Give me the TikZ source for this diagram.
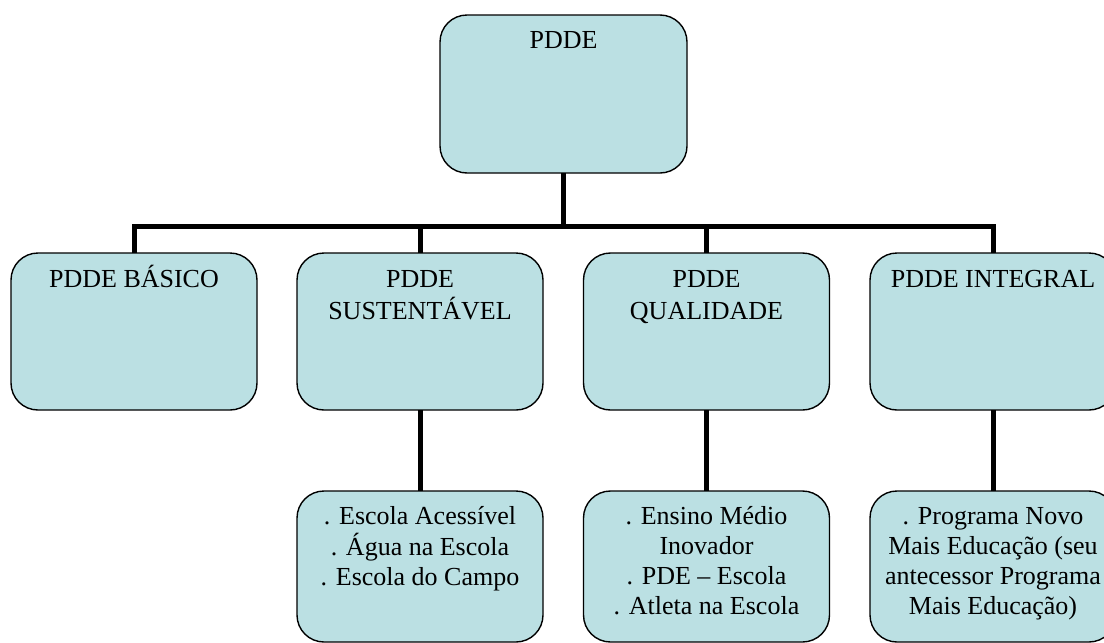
\documentclass[tikz,border=0pt]{standalone}
\usepackage{fontspec}
\setmainfont{Liberation Serif}
\usetikzlibrary{calc}
\definecolor{boxfill}{RGB}{187,224,227}
\newcommand{\boxtext}[1]{\begin{tabular}[t]{@{}c@{}}#1\end{tabular}}
\tikzset{
  box/.style={draw=black, line width=1.4pt, fill=boxfill, rounded corners=27pt,
    minimum width=246pt, minimum height=157pt, inner sep=0pt, outer sep=0pt},
  topbox/.style={box, minimum width=247pt, minimum height=158pt},
  subbox/.style={box, minimum height=151pt},
  lbl/.style={anchor=base, inner sep=0pt, font=\fontsize{26}{32.5}\selectfont},
  sublbl/.style={anchor=base, inner sep=0pt, font=\fontsize{26}{30}\selectfont},
  conn/.style={line width=5pt},
}
\begin{document}
\begin{tikzpicture}[x=1pt, y=-1pt]
  \useasboundingbox (0,0) rectangle (1104,643);
  \clip (0,0) rectangle (1104,643);

  % root
  \node[topbox] (pdde) at (563.5,94) {};
  % second level
  \node[box] (basic)    at (134,331.5) {};
  \node[box] (sust)     at (420,331.5) {};
  \node[box] (qual)     at (706.5,331.5) {};
  \node[box] (integral) at (993,331.5) {};
  % third level
  \node[subbox] (sust-sub)     at (420,566.5) {};
  \node[subbox] (qual-sub)     at (706.5,566.5) {};
  \node[subbox] (integral-sub) at (993,566.5) {};

  % connectors
  \coordinate (bus) at (563.5,226);
  \foreach \c in {basic,sust,qual,integral}
    \draw[conn] (pdde.south) -- (bus) -| (\c.north);
  \draw[conn] (sust.south) -- (sust-sub.north);
  \draw[conn] (qual.south) -- (qual-sub.north);
  \draw[conn] (integral.south) -- (integral-sub.north);

  % labels
  \node[lbl] (pdde-t) at ($(pdde.north)+(0,33)$) {\boxtext{PDDE}};
  \node[lbl] (basic-t) at ($(basic.north)+(0,34)$) {\boxtext{PDDE BÁSICO}};
  \node[lbl] (sust-t) at ($(sust.north)+(0,34)$) {\boxtext{PDDE\\SUSTENTÁVEL}};
  \node[lbl] (qual-t) at ($(qual.north)+(0,34)$) {\boxtext{PDDE\\QUALIDADE}};
  \node[lbl] (integral-t) at ($(integral.north)+(0,34)$) {\boxtext{PDDE INTEGRAL}};

  \node[sublbl] (sust-sub-t) at ($(sust-sub.north)+(0,33)$)
    {\boxtext{. Escola Acessível\\. Água na Escola\\. Escola do Campo}};
  \node[sublbl] (qual-sub-t) at ($(qual-sub.north)+(0,33)$)
    {\boxtext{. Ensino Médio\\Inovador\\. PDE – Escola\\. Atleta na Escola}};
  \node[sublbl] (integral-sub-t) at ($(integral-sub.north)+(0,33)$)
    {\boxtext{. Programa Novo\\Mais Educação (seu\\antecessor Programa\\Mais Educação)}};
\end{tikzpicture}
\end{document}
